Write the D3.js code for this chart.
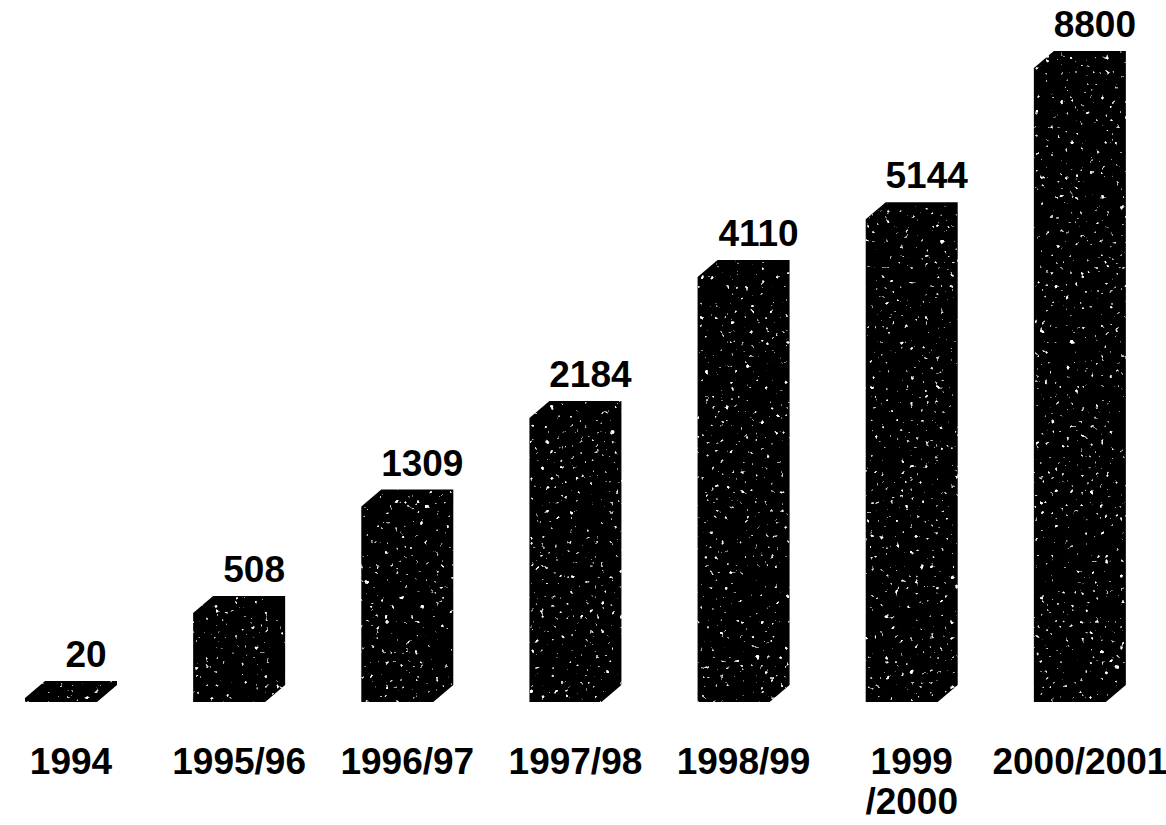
<!DOCTYPE html>
<html>
<head>
<meta charset="utf-8">
<script src="https://cdn.jsdelivr.net/npm/d3@7"></script>
<style>
  html, body { margin: 0; padding: 0; background: #fff; }
  svg { display: block; }
  text { font-family: "Liberation Sans", Arial, sans-serif; font-weight: bold; fill: #000; }
</style>
</head>
<body>
<div id="chart"></div>
<script>
// ---- data ----
const categories = ["1994", "1995/96", "1996/97", "1997/98", "1998/99", "1999/2000", "2000/2001"];
const tickLabels = [["1994"], ["1995/96"], ["1996/97"], ["1997/98"], ["1998/99"], ["1999", "/2000"], ["2000/2001"]];
const values = [20, 508, 1309, 2184, 4110, 5144, 8800];
const valueLabels = ["20", "508", "1309", "2184", "4110", "5144", "8800"];

// ---- layout ----
const W = 1166, H = 825;
const baseY = 702, topY = 68;
const frontW = 72, depthX = 20, depthY = 17;

const svg = d3.select("#chart").append("svg")
  .attr("width", W).attr("height", H);

const defs = svg.append("defs");
const f = defs.append("filter").attr("id", "speckle")
  .attr("x", "-5%").attr("y", "-5%").attr("width", "110%").attr("height", "110%");
f.append("feTurbulence").attr("type", "fractalNoise").attr("baseFrequency", "0.2")
  .attr("numOctaves", 2).attr("seed", 7).attr("result", "noise");
f.append("feColorMatrix").attr("in", "noise").attr("type", "matrix")
  .attr("values", "0 0 0 0 1  0 0 0 0 1  0 0 0 0 1  10 0 0 0 -7.0").attr("result", "dots");
f.append("feComposite").attr("in", "dots").attr("in2", "SourceAlpha").attr("operator", "in").attr("result", "clipped");
const m = f.append("feMerge");
m.append("feMergeNode").attr("in", "SourceGraphic");
m.append("feMergeNode").attr("in", "clipped");

const x = d3.scaleBand().domain(categories).range([25, 1202]).padding(0);
const y = d3.scaleSymlog().constant(1800).domain([0, d3.max(values)]).range([baseY, topY]);

const data = categories.map((c, i) => ({ c, v: values[i], label: valueLabels[i], tick: tickLabels[i] }));

function barPath(d) {
  const x0 = x(d.c), t = y(d.v);
  return `M${x0},${baseY} L${x0},${t} L${x0 + depthX},${t - depthY} ` +
         `L${x0 + frontW + depthX},${t - depthY} L${x0 + frontW + depthX},${baseY - depthY} ` +
         `L${x0 + frontW},${baseY} Z`;
}

svg.append("g").selectAll("path").data(data).join("path")
  .attr("d", barPath)
  .attr("fill", "#050505")
  .attr("filter", "url(#speckle)");

// value labels
svg.append("g").selectAll("text").data(data).join("text")
  .attr("x", d => x(d.c) + (frontW + depthX) / 2 + 15)
  .attr("y", d => y(d.v) - depthY - 14)
  .attr("text-anchor", "middle")
  .attr("font-size", 37)
  .text(d => d.label);

// category axis
const axisG = svg.append("g").attr("transform", `translate(${(frontW + depthX) / 2 - x.bandwidth() / 2},${baseY})`)
  .call(d3.axisBottom(x).tickSize(0).tickFormat(""));
axisG.select(".domain").remove();
axisG.selectAll(".tick").each(function(c, i) {
  const t = d3.select(this).append("text")
    .attr("text-anchor", "middle")
    .attr("font-size", 37)
    .attr("fill", "#000")
    .attr("y", 72);
  tickLabels[i].forEach((line, j) => {
    t.append("tspan").attr("x", 0).attr("dy", j === 0 ? 0 : 40).text(line);
  });
});
</script>
</body>
</html>
